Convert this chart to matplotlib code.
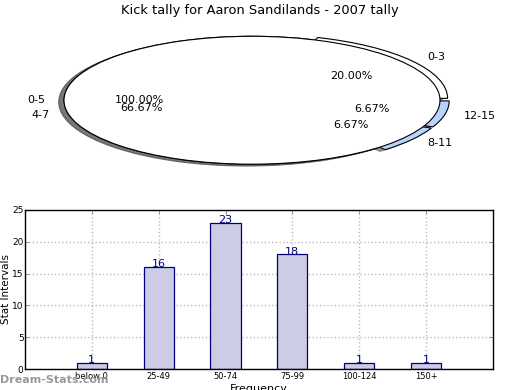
import matplotlib
matplotlib.use("Agg")
import matplotlib.pyplot as plt

# Pie data
pie_labels = ["0-3", "4-7", "8-11", "12-15"]
pie_values = [3, 10, 1, 1]
pie_colors = ["white", "white", "#b8d4fe", "#b8d4fe"]
pie_explode = [0.05, 0, 0.05, 0.05]

pie2_labels = ["0-5"]
pie2_values = [1]

# Bar data
bar_categories = ["below 0", "25-49", "50-74", "75-99", "100-124", "150+"]
bar_values = [1, 16, 23, 18, 1, 1]

fig = plt.figure(figsize=(5.2, 3.9), dpi=100)
fig.patch.set_facecolor("white")

fig.text(0.5, 0.973, "Kick tally for Aaron Sandilands - 2007 tally",
         ha="center", va="center", fontsize=9.4)

# Pie axes (elliptical, aspect auto)
axp = fig.add_axes([0.0146, 0.497, 0.940, 0.492])
axp.pie(pie_values, labels=pie_labels, colors=pie_colors, explode=pie_explode,
        autopct="%1.2f%%", shadow=True, labeldistance=1.1, pctdistance=0.6,
        wedgeprops=dict(edgecolor="black", linewidth=0.8),
        textprops=dict(fontsize=8))
axp.pie(pie2_values, labels=pie2_labels, colors=["white"],
        autopct="%1.2f%%", shadow=True, labeldistance=1.1, pctdistance=0.6,
        wedgeprops=dict(edgecolor="black", linewidth=0.8),
        textprops=dict(fontsize=8))
axp.set_aspect("auto")
axp.set_xlim(-1.3, 1.3)
axp.set_ylim(-1.5, 1.5)
axp.axis("off")

# Bar axes
axb = fig.add_axes([0.048, 0.0538, 0.9, 0.408])
x = list(range(1, len(bar_categories) + 1))
axb.bar(x, bar_values, width=0.45, color="#ccccE4", edgecolor="#000080",
        linewidth=0.9, zorder=2)
for xi, v in zip(x, bar_values):
    axb.text(xi, v + 0.45, str(v), ha="center", va="center",
             color="#000080", fontsize=8, zorder=3)
axb.set_xlim(0, 7)
axb.set_ylim(0, 25)
axb.set_xticks(x)
axb.set_xticklabels(bar_categories, fontsize=6)
axb.set_yticks([0, 5, 10, 15, 20, 25])
axb.tick_params(axis="y", labelsize=6.5, pad=1)
axb.tick_params(axis="x", pad=2)
axb.tick_params(direction="in", top=True, right=True, length=3, width=0.6,
                color="#888888")
axb.grid(True, linestyle=":", color="#bbbbbb", linewidth=1, zorder=0)
axb.set_axisbelow(True)
axb.set_ylabel("Stat Intervals", fontsize=7.5, labelpad=1)
axb.set_xlabel("Frequency", fontsize=8, labelpad=2)
for s in axb.spines.values():
    s.set_linewidth(1)

fig.text(0.0, 0.025, "Dream-Stats.com", color="#999999", fontsize=8,
         fontweight="bold", ha="left", va="center")

fig.savefig("out.png", dpi=100)
